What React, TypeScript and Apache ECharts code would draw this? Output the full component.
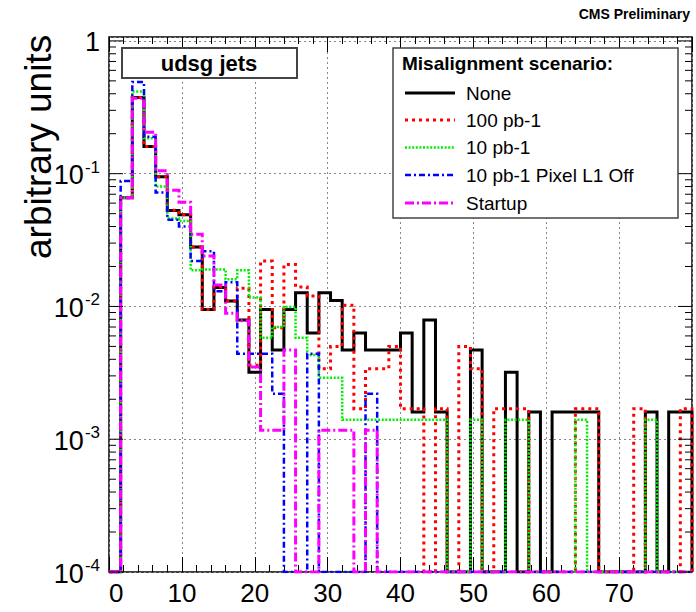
import React, { useEffect, useRef } from "react";
import * as echarts from "echarts";

// ---- data ----
const BIN_WIDTH = 1.6; // 50 bins over 0..80
const X_MIN = 0;
const X_MAX = 80;
const Y_MIN = 1e-4;
const Y_MAX = 1.07;

const X_TICK_LABELS = ["0", "10", "20", "30", "40", "50", "60", "70"];
const Y_DECADES = [-4, -3, -2, -1, 0];

const LEGEND_TITLE = "Misalignment scenario:";
const SERIES_NAMES = ["None", "100 pb-1", "10 pb-1", "10 pb-1 Pixel L1 Off", "Startup"];

const NONE = [
  0, 0.066, 0.375, 0.16, 0.095, 0.0527, 0.049, 0.028, 0.0095, 0.0139,
  0.011, 0.0079, 0.0032, 0.0095, 0.0047, 0.0095, 0.0127, 0.0063, 0.0127, 0.0111,
  0.0047, 0.0063, 0.0047, 0.0047, 0.0047, 0.0063, 0.0016, 0.0079, 0.0016, 0,
  0, 0.0047, 0, 0, 0.0032, 0, 0.0016, 0, 0.0016, 0.0016,
  0.0016, 0.0016, 0, 0, 0, 0, 0.0016, 0, 0.0016, 0.0016,
];
const PB100 = [
  0, 0.066, 0.375, 0.16, 0.095, 0.053, 0.049, 0.028, 0.0095, 0.014,
  0.011, 0.0137, 0.0036, 0.022, 0.0069, 0.0207, 0.014, 0.012, 0.0034, 0.005,
  0.0102, 0.0017, 0.0034, 0.0034, 0.005, 0.0017, 0.0017, 0, 0.0017, 0,
  0.005, 0.0034, 0, 0.0017, 0.0017, 0.0017, 0, 0, 0, 0,
  0.0017, 0.0017, 0, 0, 0, 0.0017, 0, 0, 0, 0.0017,
];
const PB10 = [
  0, 0.066, 0.415, 0.185, 0.08, 0.046, 0.044, 0.0187, 0.019, 0.019,
  0.016, 0.0187, 0.0117, 0.0058, 0.007, 0.0099, 0.0058, 0.0043, 0.0029, 0.0029,
  0.0014, 0.0014, 0.0014, 0.0014, 0.0014, 0.0014, 0.0014, 0.0014, 0.0014, 0,
  0, 0.0014, 0, 0, 0.0014, 0.0014, 0, 0, 0, 0,
  0.0014, 0, 0, 0, 0, 0, 0.0014, 0, 0, 0,
];
const PB10_L1OFF = [
  0, 0.088, 0.49, 0.19, 0.072, 0.045, 0.04, 0.022, 0.026, 0.013,
  0.0152, 0.0044, 0.0044, 0.0044, 0.0022, 0, 0, 0.0044, 0, 0,
  0, 0, 0.0022, 0, 0, 0, 0, 0, 0, 0,
  0, 0, 0, 0, 0, 0, 0, 0, 0, 0,
  0, 0, 0, 0, 0, 0, 0, 0, 0, 0,
];
const STARTUP = [
  0, 0.066, 0.37, 0.205, 0.105, 0.075, 0.061, 0.035, 0.024, 0.0145,
  0.0089, 0.0078, 0.0035, 0.00117, 0.00117, 0.0047, 0, 0, 0.00117, 0.00117,
  0.00117, 0, 0.00117, 0, 0, 0, 0, 0, 0, 0,
  0, 0, 0, 0, 0, 0, 0, 0, 0, 0,
  0, 0, 0, 0, 0, 0, 0, 0, 0, 0,
];

const SERIES_DATA = [NONE, PB100, PB10, PB10_L1OFF, STARTUP];
const COLORS = ["#000000", "#ff0000", "#00ee00", "#0000ff", "#ff00ff"];
const DASHES: any[] = ["solid", [3, 4], [2, 1.6], [6, 3, 2, 3], [9, 3, 2, 3]];
const WIDTHS = [3, 3, 2.5, 2.5, 3];

const FONT = "'Liberation Sans', Arial, Helvetica, sans-serif";

function toSteps(vals: number[]) {
  const n = vals.length;
  const pts: number[][] = vals.map((v, i) => [i * BIN_WIDTH, v > 0 ? v : Y_MIN]);
  const last = vals[n - 1] > 0 ? vals[n - 1] : Y_MIN;
  pts.push([n * BIN_WIDTH, last]);
  pts.push([n * BIN_WIDTH, Y_MIN]);
  return pts;
}

export default function App() {
  const ref = useRef<HTMLDivElement>(null);
  useEffect(() => {
    const chart = echarts.init(ref.current!, null, { renderer: "svg" });
    const xAxisCommon = {
      type: "value",
      min: X_MIN,
      max: X_MAX,
      interval: 10,
      axisLine: { show: false },
      axisTick: { show: true, inside: true, length: 15, lineStyle: { color: "#000", width: 1 } },
      minorTick: { show: true, splitNumber: 5, length: 7, lineStyle: { color: "#000", width: 1 } },
    };
    chart.setOption({
      animation: false,
      backgroundColor: "#fff",
      grid: {
        left: 109,
        right: 4,
        top: 37,
        bottom: 40,
        show: true,
        borderColor: "#000",
        borderWidth: 1.5,
        backgroundColor: "transparent",
      },
      xAxis: [
        {
          ...xAxisCommon,
          position: "bottom",
          axisLabel: {
            show: true,
            margin: 8,
            fontSize: 26,
            fontFamily: FONT,
            color: "#000",
            alignMinLabel: "left",
            formatter: (v: number) => {
              const s = String(Math.round(v));
              return X_TICK_LABELS.indexOf(s) >= 0 ? s : "";
            },
          },
          splitLine: { show: true, lineStyle: { color: "#888", width: 1, type: [2, 3] } },
        },
        {
          ...xAxisCommon,
          position: "top",
          axisLabel: { show: false },
          splitLine: { show: false },
        },
      ],
      yAxis: {
        type: "log",
        logBase: 10,
        min: Y_MIN,
        max: Y_MAX,
        axisLine: { show: false },
        axisTick: { show: false },
        axisLabel: {
          margin: 9,
          formatter: (v: number) => {
            const e = Math.log10(v);
            const r = Math.round(e);
            if (Math.abs(e - r) > 1e-6 || Y_DECADES.indexOf(r) < 0) return "";
            if (r === 0) return "{b|1}";
            return `{b|10}{s|${r}}`;
          },
          rich: {
            b: { fontSize: 27, fontFamily: FONT, color: "#000", lineHeight: 30, verticalAlign: "bottom" },
            s: { fontSize: 17, fontFamily: FONT, color: "#000", lineHeight: 17, verticalAlign: "top", padding: [0, 0, 0, 1] },
          },
        },
        splitLine: { show: true, lineStyle: { color: "#888", width: 1, type: [2, 3] } },
      },
      series: SERIES_DATA.map((vals, i) => ({
        name: SERIES_NAMES[i],
        type: "line",
        step: "end",
        xAxisIndex: 0,
        symbol: "none",
        clip: true,
        z: 2 + i,
        lineStyle: { color: COLORS[i], width: WIDTHS[i], type: DASHES[i], cap: "butt", join: "miter" },
        data: toSteps(vals),
      })),
    });

    // ticks on y (log major + minor) on both sides
    const xl = chart.convertToPixel({ xAxisIndex: 0 }, X_MIN) as number;
    const xr = chart.convertToPixel({ xAxisIndex: 0 }, X_MAX) as number;
    const ticks: any[] = [];
    for (let k = -4; k <= 0; k++) {
      for (let m = 1; m <= 9; m++) {
        const v = m * Math.pow(10, k);
        if (v > Y_MAX) break;
        const y = chart.convertToPixel({ yAxisIndex: 0 }, v) as number;
        const len = m === 1 ? 14 : 7;
        ticks.push({ type: "line", z: 50, shape: { x1: xl, y1: y, x2: xl + len, y2: y }, style: { stroke: "#000", lineWidth: 1 } });
        ticks.push({ type: "line", z: 50, shape: { x1: xr - len, y1: y, x2: xr, y2: y }, style: { stroke: "#000", lineWidth: 1 } });
      }
    }

    const legendX = 393, legendY = 48, legendW = 285, legendH = 170;
    const rowY = [93, 120, 147.5, 175, 203];
    const legendItems: any[] = [];
    SERIES_NAMES.forEach((name, i) => {
      legendItems.push({
        type: "line",
        z: 102,
        shape: { x1: 405, y1: rowY[i], x2: 455, y2: rowY[i] },
        style: { stroke: COLORS[i], lineWidth: WIDTHS[i], lineDash: DASHES[i] === "solid" ? null : DASHES[i] },
      });
      legendItems.push({
        type: "text",
        z: 102,
        x: 466,
        y: rowY[i],
        style: { text: name, font: `19px ${FONT}`, fill: "#000", textAlign: "left", textVerticalAlign: "middle" },
      });
    });

    chart.setOption({
      graphic: [
        ...ticks,
        {
          type: "text",
          z: 100,
          x: 38,
          y: 259,
          rotation: Math.PI / 2,
          style: { text: "arbitrary units", font: `37px ${FONT}`, fill: "#000", textAlign: "left", textVerticalAlign: "middle" },
        },
        {
          type: "text",
          z: 100,
          x: 690,
          y: 14,
          style: { text: "CMS Preliminary", font: `bold 14px ${FONT}`, fill: "#000", textAlign: "right", textVerticalAlign: "middle" },
        },
        {
          type: "rect",
          z: 100,
          shape: { x: 122, y: 48, width: 175, height: 30 },
          style: { fill: "#fff", stroke: "#444", lineWidth: 2 },
        },
        {
          type: "text",
          z: 101,
          x: 209,
          y: 63,
          style: { text: "udsg jets", font: `bold 22px ${FONT}`, fill: "#000", textAlign: "center", textVerticalAlign: "middle" },
        },
        {
          type: "rect",
          z: 100,
          shape: { x: legendX, y: legendY, width: legendW, height: legendH },
          style: { fill: "#fff", stroke: "#444", lineWidth: 1.5 },
        },
        {
          type: "text",
          z: 101,
          x: 402,
          y: 63,
          style: { text: LEGEND_TITLE, font: `bold 19px ${FONT}`, fill: "#000", textAlign: "left", textVerticalAlign: "middle" },
        },
        ...legendItems,
      ],
    });

    return () => chart.dispose();
  }, []);
  return <div ref={ref} style={{ position: "fixed", left: 0, top: 0, width: 696, height: 612 }} />;
}
